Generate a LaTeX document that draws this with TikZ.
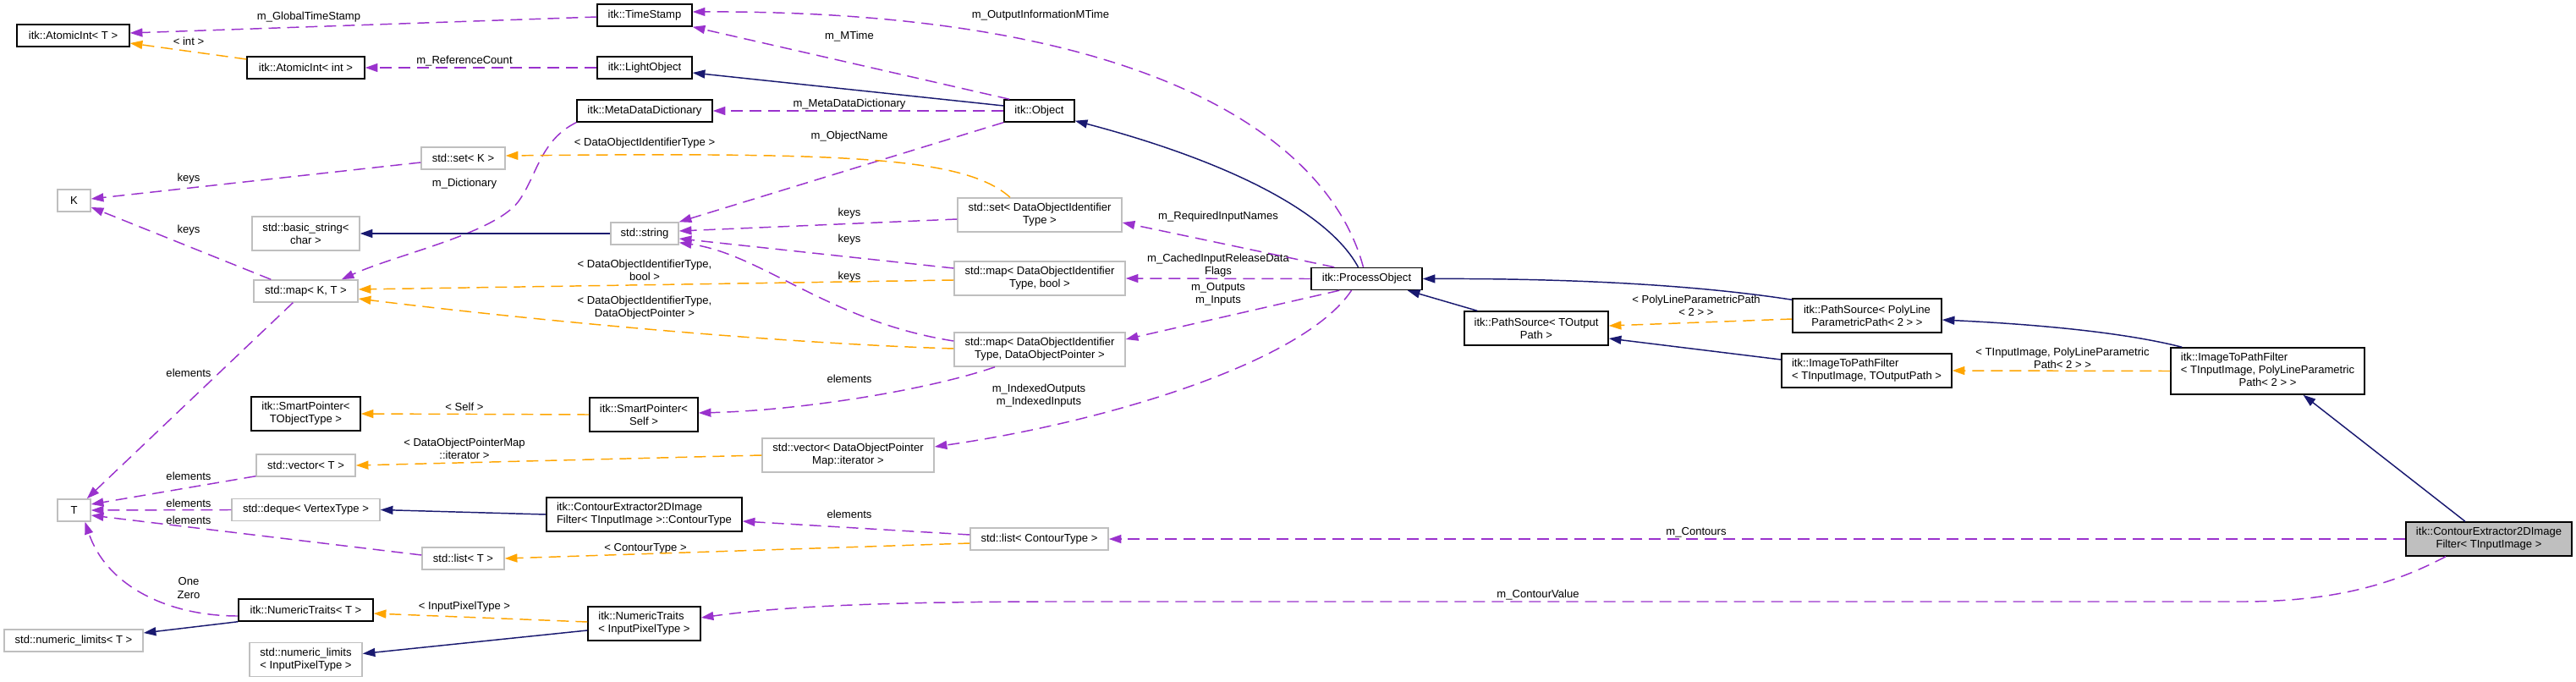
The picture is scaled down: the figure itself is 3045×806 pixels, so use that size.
\documentclass[tikz,border=0pt]{standalone}
\usepackage{fontspec}
\setmainfont{Liberation Sans}
\usetikzlibrary{arrows.meta,calc}
\definecolor{usecol}{HTML}{9A32CD}
\definecolor{tplcol}{HTML}{FFA500}
\definecolor{inhcol}{HTML}{191970}
\definecolor{extborder}{HTML}{BFBFBF}
\definecolor{mainfill}{HTML}{BFBFBF}
\newcommand\dgsize{\fontsize{9.8pt}{11.3pt}\selectfont}
\begin{document}
\begin{tikzpicture}[x=0.75pt,y=-0.75pt,
  cls/.style={draw=black, line width=1.1pt, fill=white, inner sep=0pt, font=\dgsize, align=center},
  ext/.style={draw=extborder, line width=1.1pt, fill=white, inner sep=0pt, font=\dgsize, align=center},
  wh/.style 2 args={minimum width=#1*0.75pt, minimum height=#2*0.75pt},
  lbl/.style={inner sep=0pt, font=\dgsize, align=center},
  tipx/.style={-{Triangle[length=11pt,width=7.5pt]}},
  use/.style={draw=usecol, line width=1.1pt, dash pattern=on 10.5pt off 6pt, tipx},
  tpl/.style={draw=tplcol, line width=1.1pt, dash pattern=on 10.5pt off 6pt, tipx},
  inh/.style={draw=inhcol, line width=1.1pt, tipx}]
\useasboundingbox (0,0) rectangle (3045,806);
% ---------------- nodes ----------------
\node[cls, wh={133}{26}] (aiT) at (86.5,42) {itk::AtomicInt< T >};
\node[cls, wh={139}{26}] (aiint) at (361.5,80) {itk::AtomicInt< int >};
\node[cls, wh={112}{26}] (ts) at (762,18) {itk::TimeStamp};
\node[cls, wh={112}{26}] (lo) at (762,80) {itk::LightObject};
\node[cls, wh={160}{26}] (mdd) at (762,131) {itk::MetaDataDictionary};
\node[cls, wh={83}{26}] (obj) at (1228.5,131) {itk::Object};
\node[ext, wh={99}{26}] (setK) at (547.5,187) {std::set< K >};
\node[ext, wh={39}{26}] (K) at (87.5,237) {K};
\node[ext, wh={127}{40}] (bstr) at (361.5,276) {std::basic\_string<\\char >};
\node[ext, wh={80}{26}] (str) at (762,276) {std::string};
\node[ext, wh={194}{40}] (setD) at (1229,254) {std::set< DataObjectIdentifier\\Type >};
\node[ext, wh={123}{26}] (mapKT) at (361.5,344) {std::map< K, T >};
\node[ext, wh={202}{40}] (mapB) at (1229,329) {std::map< DataObjectIdentifier\\Type, bool >};
\node[cls, wh={131}{26}] (po) at (1615.5,329.5) {itk::ProcessObject};
\node[ext, wh={202}{40}] (mapP) at (1229,413) {std::map< DataObjectIdentifier\\Type, DataObjectPointer >};
\node[cls, wh={170}{40}] (psT) at (1816,388) {itk::PathSource< TOutput\\Path >};
\node[cls, wh={176}{40}] (psP) at (2207,373) {itk::PathSource< PolyLine\\ParametricPath< 2 > >};
\node[cls, wh={201}{40}, align=left] (itT) at (2206.5,438) {itk::ImageToPathFilter\\< TInputImage, TOutputPath >};
\node[cls, wh={229}{55}] (itP) at (2680.5,438.5) {\begin{tabular}{@{}l@{}}itk::ImageToPathFilter\\< TInputImage, PolyLineParametric\\\multicolumn{1}{@{}c@{}}{Path< 2 > >}\end{tabular}};
\node[cls, wh={129}{40}] (spT) at (361.5,489) {itk::SmartPointer<\\TObjectType >};
\node[cls, wh={128}{40}] (spS) at (761,490) {itk::SmartPointer<\\Self >};
\node[ext, wh={203}{40}] (vecD) at (1002.5,538) {std::vector< DataObjectPointer\\Map::iterator >};
\node[ext, wh={117}{26}] (vecT) at (361.5,550) {std::vector< T >};
\node[ext, wh={39}{26}] (T) at (87.5,603) {T};
\node[ext, wh={175}{26}] (deq) at (361.5,602.5) {std::deque< VertexType >};
\node[cls, wh={231}{40}, align=left] (ct) at (761.5,608) {itk::ContourExtractor2DImage\\Filter< TInputImage >::ContourType};
\node[ext, wh={97}{26}] (listT) at (547.5,660) {std::list< T >};
\node[ext, wh={163}{26}] (listC) at (1228.5,637) {std::list< ContourType >};
\node[cls, fill=mainfill, wh={196}{40}] (ce) at (2942,637) {itk::ContourExtractor2DImage\\Filter< TInputImage >};
\node[cls, wh={159}{26}] (ntT) at (361.5,721) {itk::NumericTraits< T >};
\node[ext, wh={164}{26}] (nlT) at (87,757) {std::numeric\_limits< T >};
\node[cls, wh={133}{40}, align=left] (ntI) at (761.5,737) {itk::NumericTraits\\< InputPixelType >};
\node[ext, wh={133}{40}, align=left] (nlI) at (361.5,779.5) {std::numeric\_limits\\< InputPixelType >};
% ---------------- labels ----------------
\node[lbl] (l01) at (365,20) {m\_GlobalTimeStamp};
\node[lbl] (l02) at (223,49) {< int >};
\node[lbl] (l03) at (549,72) {m\_ReferenceCount};
\node[lbl] (l04) at (762,169) {< DataObjectIdentifierType >};
\node[lbl] (l05) at (223,211) {keys};
\node[lbl] (l06) at (549,217) {m\_Dictionary};
\node[lbl] (l07) at (223,272) {keys};
\node[lbl] (l08) at (1230,18) {m\_OutputInformationMTime};
\node[lbl] (l09) at (1004,43) {m\_MTime};
\node[lbl] (l10) at (1004,123) {m\_MetaDataDictionary};
\node[lbl] (l11) at (1004,161) {m\_ObjectName};
\node[lbl] (l12) at (1004,252) {keys};
\node[lbl] (l13) at (1440,256) {m\_RequiredInputNames};
\node[lbl] (l14) at (1004,283) {keys};
\node[lbl] (l15) at (1440,314) {m\_CachedInputReleaseData\\Flags};
\node[lbl] (l16) at (762,319) {< DataObjectIdentifierType,\\bool >};
\node[lbl] (l17) at (1004,327) {keys};
\node[lbl] (l18) at (1440,348) {m\_Outputs\\m\_Inputs};
\node[lbl] (l19) at (762,364) {< DataObjectIdentifierType,\\DataObjectPointer >};
\node[lbl] (l20) at (2005,361) {< PolyLineParametricPath\\< 2 > >};
\node[lbl] (l21) at (2438,423) {< TInputImage, PolyLineParametric\\Path< 2 > >};
\node[lbl] (l22) at (223,441) {elements};
\node[lbl] (l23) at (1004,448) {elements};
\node[lbl] (l24) at (1228,468) {m\_IndexedOutputs\\m\_IndexedInputs};
\node[lbl] (l25) at (549,481) {< Self >};
\node[lbl] (l26) at (549,530) {< DataObjectPointerMap\\::iterator >};
\node[lbl] (l27) at (223,563) {elements};
\node[lbl] (l28) at (223,595) {elements};
\node[lbl] (l29) at (1004,608) {elements};
\node[lbl] (l30) at (223,615) {elements};
\node[lbl] (l31) at (2005,629) {m\_Contours};
\node[lbl] (l32) at (763,648) {< ContourType >};
\node[lbl] (l33) at (223,695) {One\\Zero};
\node[lbl] (l34) at (1818,703) {m\_ContourValue};
\node[lbl] (l35) at (549,717) {< InputPixelType >};
% ---------------- usage (purple) ----------------
\draw[use] ($(ts.west)+(0,2)$) -- ($(aiT.east)+(0,-3)$);
\draw[use] (lo.west) -- (aiint.east);
\draw[use] ($(setK.west)+(0,5)$) -- ($(K.east)+(0,-2)$);
\draw[use] ($(mapKT.north west)+(21,0)$) -- ($(K.east)+(0,8)$);
\draw[use] (mdd.south west) .. controls (640,165) and (635,205) .. (615,235) .. controls (590,275) and (470,300) .. ($(mapKT.north east)+(-20,0)$);
\draw[use] ($(obj.north west)+(7,0)$) -- (ts.south east);
\draw[use] (obj.west) -- (mdd.east);
\draw[use] (obj.south west) -- (str.north east);
\draw[use] ($(po.north)+(-4,0)$) .. controls (1570,160) and (1350,12) .. ($(ts.east)+(0,-4)$);
\draw[use] ($(setD.west)+(0,5)$) -- ($(str.east)+(0,-3)$);
\draw[use] ($(mapB.west)+(0,-12)$) -- ($(str.east)+(0,6)$);
\draw[use] ($(mapP.west)+(0,-10)$) .. controls (980,380) and (900,300) .. ($(str.south east)+(0,-3)$);
\draw[use] ($(po.north west)+(28,0)$) -- ($(setD.east)+(0,9)$);
\draw[use] (po.west) -- (mapB.east);
\draw[use] ($(po.south west)+(34,0)$) -- ($(mapP.east)+(0,-12)$);
\draw[use] ($(po.south)+(-18,0)$) .. controls (1540,430) and (1300,500) .. ($(vecD.east)+(0,-10)$);
\draw[use] ($(mapP.south)+(-53,0)$) .. controls (1100,460) and (950,485) .. ($(spS.east)+(0,-2)$);
\draw[use] ($(mapKT.south west)+(47,0)$) -- ($(T.north east)+(-5,0)$);
\draw[use] ($(vecT.south west)+(0,-1)$) -- ($(T.east)+(0,-7)$);
\draw[use] (deq.west) -- (T.east);
\draw[use] ($(listT.west)+(0,-4)$) -- ($(T.east)+(0,6)$);
\draw[use] ($(ntT.west)+(0,7)$) .. controls (195,728) and (125,690) .. ($(T.south)+(13,0)$);
\draw[use] ($(listC.west)+(0,-5)$) -- ($(ct.east)+(0,8)$);
\draw[use] (ce.west) -- (listC.east);
\draw[use] ($(ce.south)+(-51,0)$) .. controls (2830,690) and (2760,711) .. (2650,711) -- (1250,711) .. controls (1000,711) and (900,720) .. ($(ntI.east)+(0,-7)$);
% ---------------- template (orange) ----------------
\draw[tpl] ($(aiint.west)+(0,-10)$) -- ($(aiT.east)+(0,9)$);
\draw[tpl] ($(setD.north)+(-35,0)$) .. controls (1140,185) and (1000,180) .. ($(setK.east)+(0,-3)$);
\draw[tpl] ($(mapB.west)+(0,2)$) -- ($(mapKT.east)+(0,-2)$);
\draw[tpl] ($(mapP.west)+(0,-1)$) .. controls (900,405) and (600,375) .. ($(mapKT.east)+(0,9)$);
\draw[tpl] (spS.west) -- (spT.east);
\draw[tpl] (vecD.west) -- (vecT.east);
\draw[tpl] ($(listC.west)+(0,5)$) -- (listT.east);
\draw[tpl] ($(ntI.west)+(0,-2)$) -- ($(ntT.east)+(0,4)$);
\draw[tpl] ($(psP.west)+(0,4)$) -- ($(psT.east)+(0,-3)$);
\draw[tpl] (itP.west) -- (itT.east);
% ---------------- inheritance (navy) ----------------
\draw[inh] (str.west) -- (bstr.east);
\draw[inh] ($(obj.west)+(0,-6)$) -- ($(lo.east)+(0,6)$);
\draw[inh] ($(po.north)+(-10,0)$) .. controls (1570,250) and (1450,190) .. ($(obj.south east)+(0,-2)$);
\draw[inh] ($(psT.north west)+(16,0)$) -- ($(po.south east)+(-18,0)$);
\draw[inh] ($(psP.north west)+(0,2)$) .. controls (2000,336) and (1850,329) .. (po.east);
\draw[inh] ($(itT.west)+(0,-13)$) -- ($(psT.east)+(0,12)$);
\draw[inh] ($(itP.north west)+(14,0)$) .. controls (2500,390) and (2380,382) .. ($(psP.east)+(0,5)$);
\draw[inh] ($(ce.north)+(-28,0)$) -- ($(itP.south)+(42,0)$);
\draw[inh] (ct.west) -- (deq.east);
\draw[inh] (ntT.south west) -- ($(nlT.east)+(0,-9)$);
\draw[inh] ($(ntI.west)+(0,8)$) -- ($(nlI.east)+(0,-7)$);
\end{tikzpicture}
\end{document}
